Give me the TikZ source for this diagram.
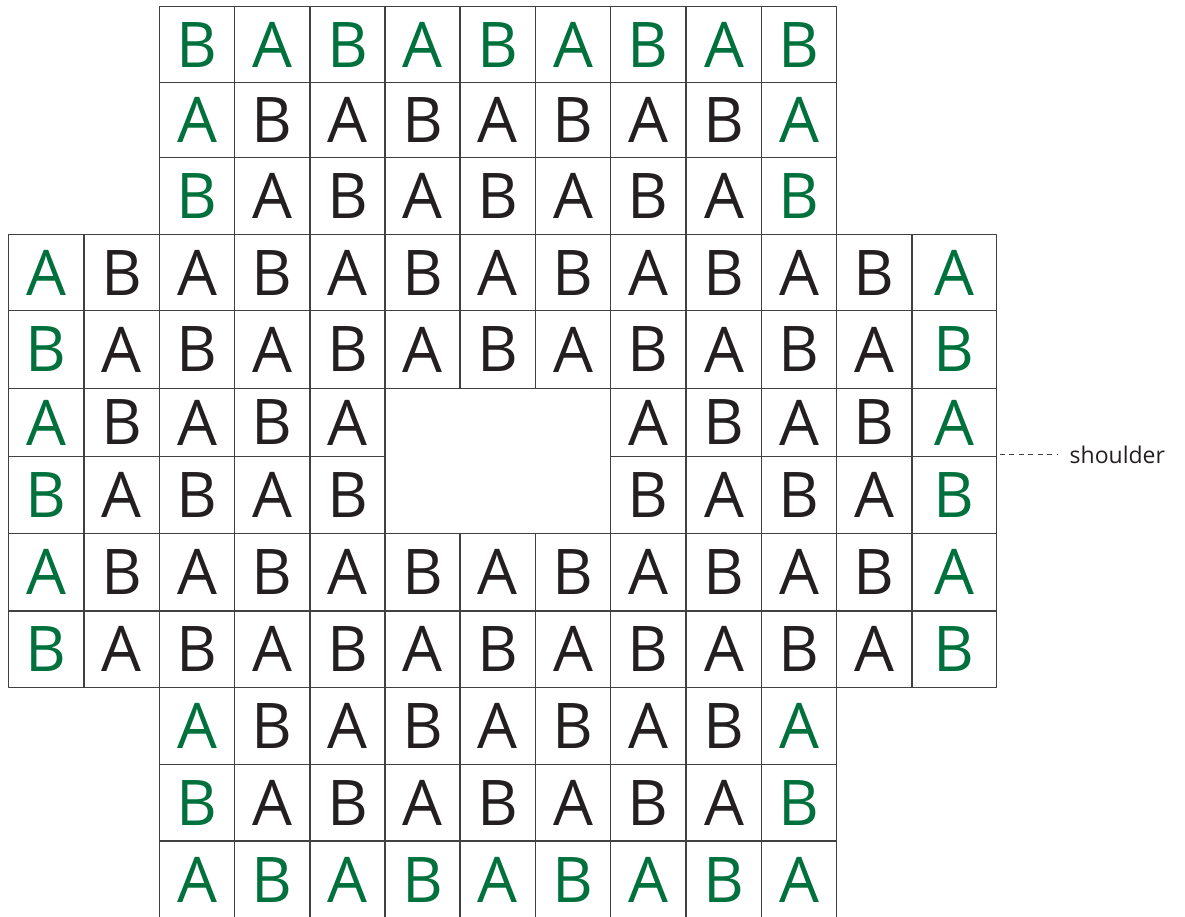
\documentclass[tikz,border=0pt]{standalone}
\usepackage{fontspec}
\setmainfont{Open Sans}
\usepackage{xcolor}
\usetikzlibrary{positioning}
\definecolor{cellgreen}{RGB}{0,113,60}
\definecolor{cellblack}{RGB}{35,31,32}
\definecolor{gridgray}{RGB}{65,65,65}

\begin{document}
\begin{tikzpicture}[x=1pt, y=-1pt, line join=round,
    cell/.style={draw=gridgray, line width=1.5pt, inner sep=0pt, outer sep=0pt,
                 font=\fontsize{63}{63}\selectfont},
    tag/.style={inner sep=0pt, text=cellblack, font=\fontsize{23}{23}\selectfont},
    tagline/.style={gridgray, line width=0.8pt, dash pattern=on 5pt off 4.5pt}]
  \useasboundingbox (0,0) rectangle (1185,917);

  % ========================================================
  % 0. COLUMN AND ROW EDGES
  % ========================================================
  \def\colx{{8.7,84,159.3,234.7,310,385,460,535.7,610.5,686.2,761.7,836.3,911.8,996.5}}
  \def\rowy{{6.7,82.7,157.7,234.5,310.7,388.3,456.7,533.3,611,687.3,764.3,841,919}}

  % ========================================================
  % 1. CELLS (row/first col/last col), hole at rows 5-6, cols 5-7
  % ========================================================
  \foreach \ry/\ca/\cb in {0/2/10, 1/2/10, 2/2/10, 3/0/12, 4/0/12,
                           5/0/4, 5/8/12, 6/0/4, 6/8/12,
                           7/0/12, 8/0/12, 9/2/10, 10/2/10, 11/2/10} {
    \foreach \cx in {\ca,...,\cb} {
      \pgfmathsetmacro\xl{\colx[\cx]}
      \pgfmathsetmacro\xr{\colx[\cx+1]}
      \pgfmathsetmacro\yt{\rowy[\ry]}
      \pgfmathsetmacro\yb{\rowy[\ry+1]}
      \pgfmathtruncatemacro\odd{mod(\ry+\cx,2)}
      % outer ring of the board is green
      \pgfmathtruncatemacro\green{(\ry==0)||(\ry==11)||(\cx==0)||(\cx==12)||
                                  (((\ry<3)||(\ry>8))&&((\cx==2)||(\cx==10)))}
      \ifnum\green=1 \def\tc{cellgreen}\else\def\tc{cellblack}\fi
      \node[cell, text=\tc, minimum width=\xr pt-\xl pt, minimum height=\yb pt-\yt pt]
        (c-\ry-\cx) at ({(\xl+\xr)/2},{(\yt+\yb)/2}) {\ifnum\odd=1 A\else B\fi};
    }
  }

  % ========================================================
  % 2. SHOULDER LABEL
  % ========================================================
  \node[tag, right=73pt of c-5-12.south east, yshift=2pt] (shoulder) {shoulder};
  \draw[tagline, shorten <=3pt, shorten >=12pt]
    (c-5-12.south east |- shoulder.west) -- (shoulder.west);

\end{tikzpicture}
\end{document}
